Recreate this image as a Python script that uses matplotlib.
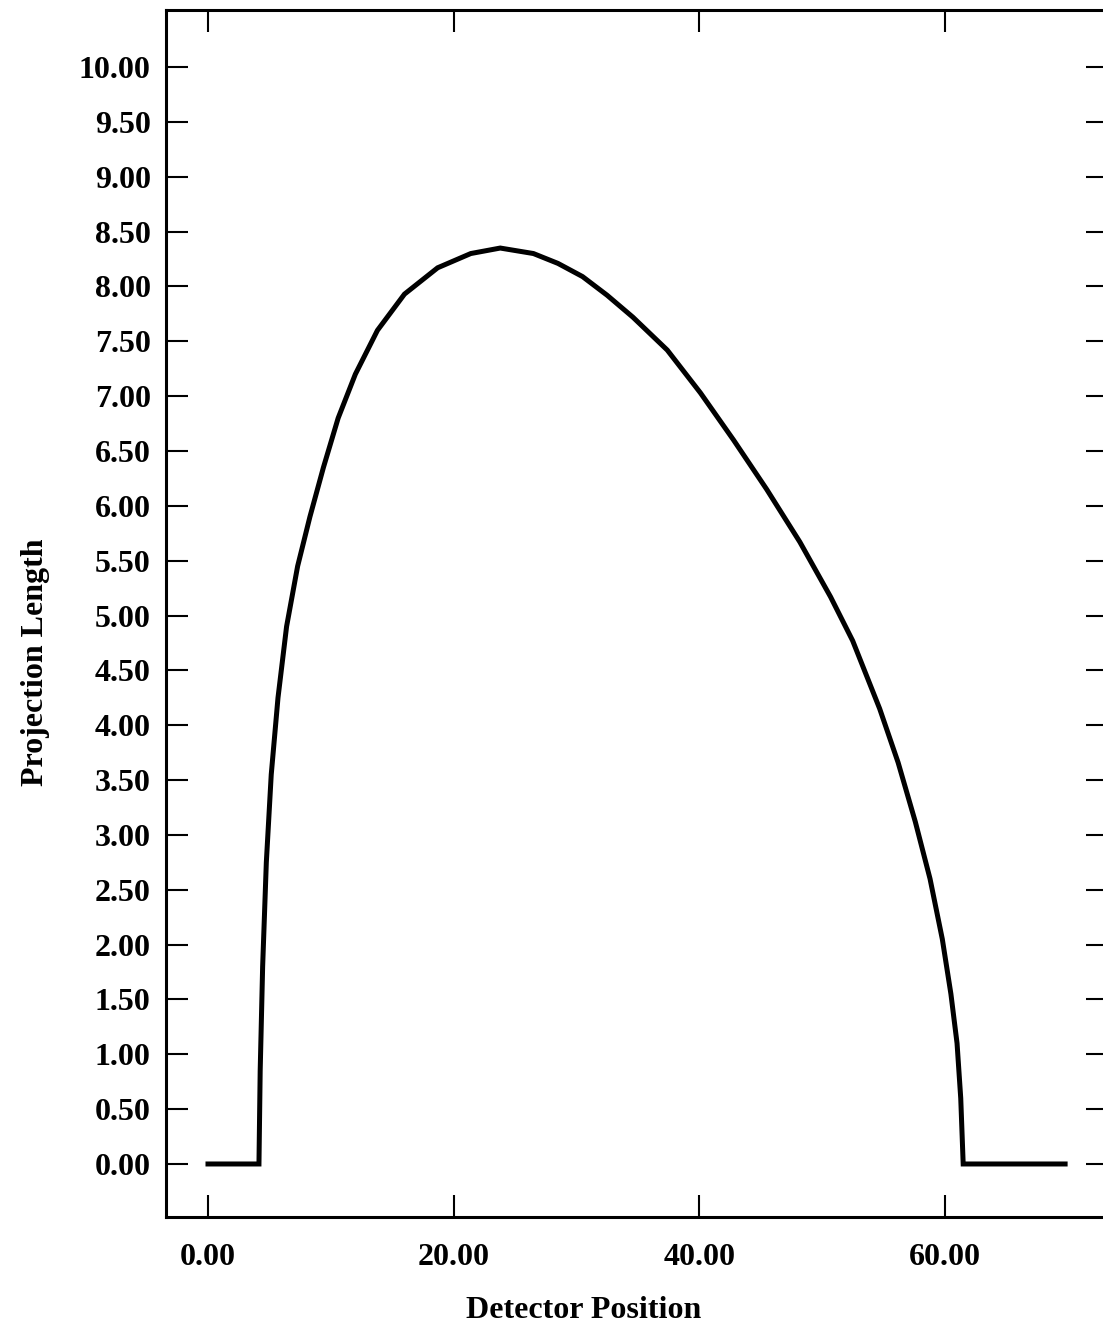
import matplotlib
matplotlib.use('Agg')
import matplotlib.pyplot as plt
from matplotlib.ticker import FormatStrFormatter

# projection profile across the detector
detector_pos = [0.0, 4.15, 4.25, 4.45, 4.75, 5.15, 5.7, 6.4, 7.3, 8.3, 9.4,
                10.6, 12.0, 13.8, 16.0, 18.7, 21.4, 23.8, 26.5, 28.5, 30.5,
                32.5, 34.6, 37.4, 40.1, 42.8, 45.5, 48.2, 50.7, 52.5, 54.7,
                56.2, 57.6, 58.8, 59.8, 60.5, 61.0, 61.3, 61.5, 69.8]
proj_length = [0.0, 0.0, 0.85, 1.80, 2.75, 3.55, 4.25, 4.90, 5.45, 5.90, 6.35,
               6.80, 7.20, 7.60, 7.93, 8.17, 8.30, 8.35, 8.30, 8.21, 8.09,
               7.92, 7.72, 7.42, 7.03, 6.60, 6.15, 5.67, 5.17, 4.77, 4.15,
               3.66, 3.12, 2.60, 2.05, 1.55, 1.10, 0.60, 0.0, 0.0]

x_ticks = [0, 20, 40, 60]
y_ticks = [0.0, 0.5, 1.0, 1.5, 2.0, 2.5, 3.0, 3.5, 4.0, 4.5, 5.0,
           5.5, 6.0, 6.5, 7.0, 7.5, 8.0, 8.5, 9.0, 9.5, 10.0]

plt.rcParams['font.family'] = 'Liberation Serif'
plt.rcParams['font.weight'] = 'bold'

fig = plt.figure(figsize=(11.03, 13.36), dpi=100)
ax = fig.add_axes([0.1505, 0.0891, 0.854, 0.9034])

ax.plot(detector_pos, proj_length, color='black', lw=3.6, solid_joinstyle='miter')

ax.set_xlim(-3.42, 73.29)
ax.set_ylim(-0.483, 10.52)
ax.set_xticks(x_ticks)
ax.set_yticks(y_ticks)
ax.xaxis.set_major_formatter(FormatStrFormatter('%.2f'))
ax.yaxis.set_major_formatter(FormatStrFormatter('%.2f'))

ax.tick_params(axis='both', direction='in', width=1.5, labelsize=23,
               colors='black')
ax.tick_params(axis='x', top=True, length=16, pad=19)
ax.tick_params(axis='y', right=True, length=16, pad=11)

for s in ax.spines.values():
    s.set_linewidth(2.2)

fig.text(584 / 1103, 1 - 1310 / 1336, 'Detector Position', fontsize=23,
         fontweight='bold', ha='center', va='center')
fig.text(35 / 1103, 1 - 662 / 1336, 'Projection Length', fontsize=23,
         fontweight='bold', ha='center', va='center', rotation=90)

fig.savefig('out.png', dpi=100)
